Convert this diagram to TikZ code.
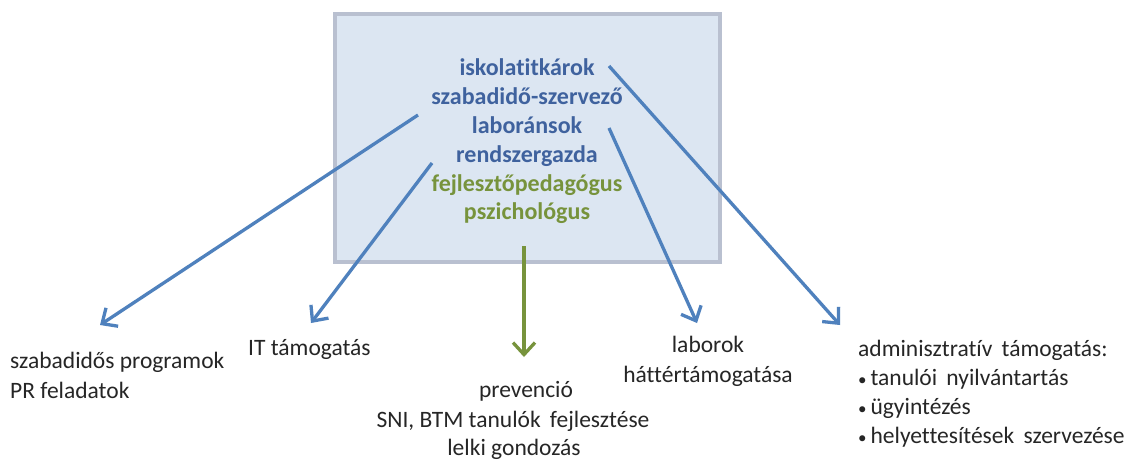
\documentclass[tikz,border=0pt]{standalone}
\usepackage{fontspec}
\setmainfont{Carlito}[Ligatures={NoCommon}]
\usetikzlibrary{arrows.meta}
\definecolor{boxfill}{HTML}{DCE6F2}
\definecolor{boxline}{HTML}{B9C0D0}
\definecolor{roleblue}{HTML}{3F629E}
\definecolor{rolegreen}{HTML}{77933C}
\definecolor{arrblue}{HTML}{4F81BD}
\definecolor{arrgreen}{HTML}{77933C}
\newcommand{\bul}{{\fontsize{17}{17}\selectfont\textbullet}\,}
\tikzset{
  role/.style={font=\fontsize{24}{29}\selectfont\bfseries, inner sep=0pt, anchor=base},
  lbl/.style={font=\fontsize{23.5}{29}\selectfont, inner sep=0pt, text=black!85},
  conn/.style={line width=3.3pt, arrblue, -{Straight Barb[length=12pt,width=22pt,line width=3.3pt]}},
  gconn/.style={line width=3.3pt, arrgreen, -{Straight Barb[length=12pt,width=22pt,line width=3.3pt]}}
}
\begin{document}
\begin{tikzpicture}[x=1pt,y=-1pt]
\useasboundingbox (0,0) rectangle (1138,459);
\fill[white] (0,0) rectangle (1138,459);
\node[draw=boxline, line width=3.5pt, fill=boxfill, minimum width=385pt, minimum height=248pt, inner sep=0pt] (box) at (527.5,138) {};
\node[role, text=roleblue] (r1) at (527,75) {iskolatitkárok};
\node[role, text=roleblue] (r2) at (527,104) {szabadidő-szervező};
\node[role, text=roleblue] (r3) at (527,133) {laboránsok};
\node[role, text=roleblue] (r4) at (527,162) {rendszergazda};
\node[role, text=rolegreen] (r5) at (527,191) {fejlesztőpedagógus};
\node[role, text=rolegreen] (r6) at (527,219) {pszichológus};
\coordinate (s1) at (418,115);
\coordinate (s2) at (432,163);
\coordinate (s3) at (524,246);
\coordinate (s4) at (609,128);
\coordinate (s5) at (609,66);
\coordinate (e1) at (100,325);
\coordinate (e2) at (311,323);
\coordinate (e3) at (524,357);
\coordinate (e4) at (697,323);
\coordinate (e5) at (840,325);
\node[lbl, anchor=base west] (t1a) at (10,368) {szabadidős programok};
\node[lbl, anchor=base west] (t1b) at (10,398) {PR feladatok};
\node[lbl, anchor=base west] (t2) at (248,355) {IT támogatás};
\node[lbl, anchor=base] (t3a) at (526,397) {prevenció};
\node[lbl, anchor=base] (t3b) at (513,427) {SNI, BTM tanulók\, fejlesztése};
\node[lbl, anchor=base] (t3c) at (514,455) {lelki gondozás};
\node[lbl, anchor=base] (t4a) at (708,352) {laborok};
\node[lbl, anchor=base] (t4b) at (708,382) {háttértámogatása};
\node[lbl, anchor=base west] (t5a) at (858,356) {adminisztratív\, támogatás:};
\node[lbl, anchor=base west] (t5b) at (858,385) {\bul tanulói\, nyilvántartás};
\node[lbl, anchor=base west] (t5c) at (858,414) {\bul ügyintézés};
\node[lbl, anchor=base west] (t5d) at (858,443) {\bul helyettesítések\, szervezése};
\draw[conn] (s1) -- (e1);
\draw[conn] (s2) -- (e2);
\draw[gconn] (s3) -- (e3);
\draw[conn] (s4) -- (e4);
\draw[conn] (s5) -- (e5);
\end{tikzpicture}
\end{document}
